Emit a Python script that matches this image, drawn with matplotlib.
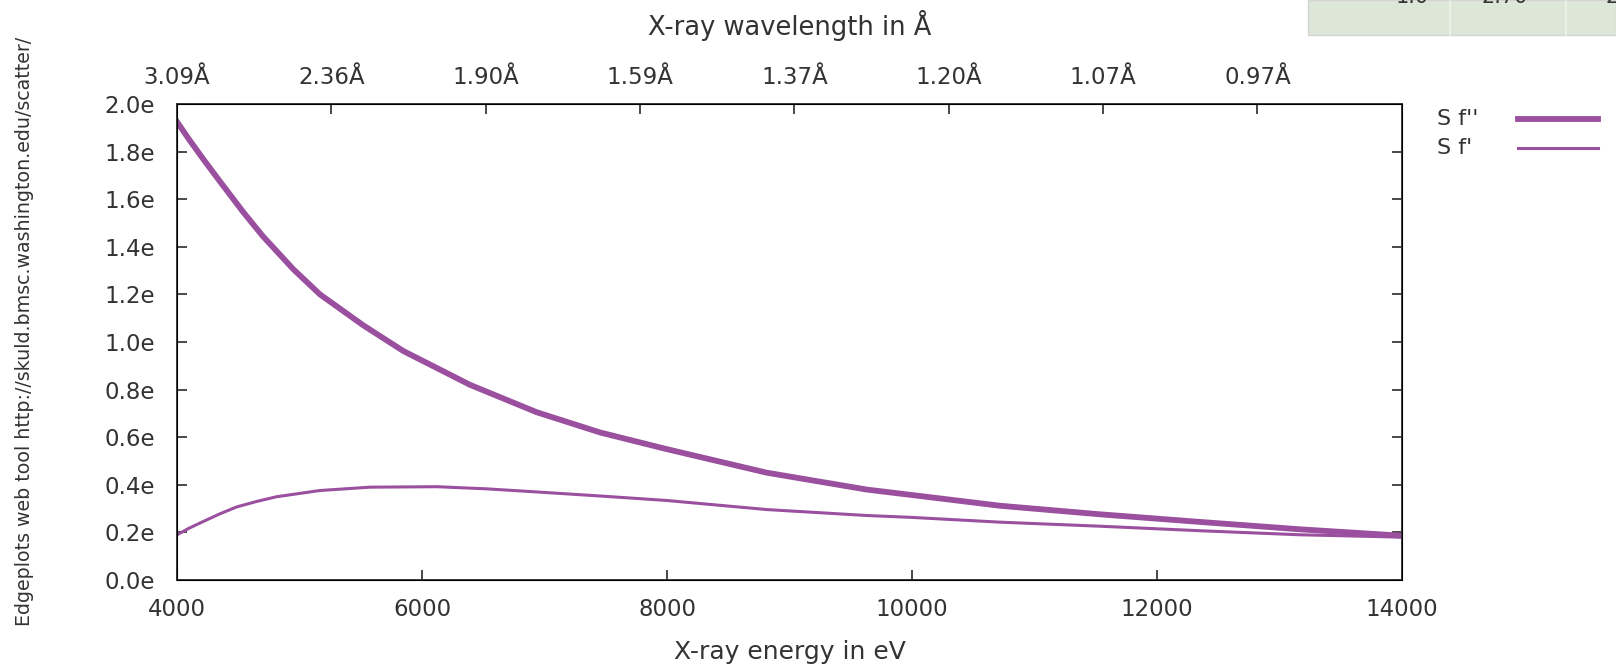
import matplotlib
matplotlib.use("Agg")
import matplotlib.pyplot as plt
from matplotlib.patches import Rectangle

# values (energy in eV, scattering factor in e)
energy_f2 = [4000, 4100, 4215, 4350, 4542, 4700, 4951, 5167, 5521, 5848, 6392, 6936,
             7453, 7997, 8813, 9630, 10000, 10718, 11535, 12351, 13167, 14000]
f_double = [1.925, 1.850, 1.768, 1.675, 1.545, 1.445, 1.305, 1.200, 1.070, 0.962, 0.820,
            0.705, 0.620, 0.550, 0.451, 0.380, 0.357, 0.312, 0.276, 0.244, 0.213, 0.186]

energy_f1 = [4000, 4100, 4215, 4350, 4487, 4650, 4814, 5167, 5575, 6120, 6528, 6936,
             7453, 8000, 8813, 9630, 10000, 10718, 11535, 12351, 13167, 14000]
f_prime = [0.190, 0.218, 0.246, 0.278, 0.307, 0.330, 0.350, 0.376, 0.390, 0.392, 0.383,
           0.370, 0.353, 0.334, 0.296, 0.271, 0.263, 0.243, 0.226, 0.207, 0.190, 0.180]

energy_ticks = [4000, 6000, 8000, 10000, 12000, 14000]
y_ticks = [0.0, 0.2, 0.4, 0.6, 0.8, 1.0, 1.2, 1.4, 1.6, 1.8, 2.0]
y_labels = ["0.0e", "0.2e", "0.4e", "0.6e", "0.8e", "1.0e",
            "1.2e", "1.4e", "1.6e", "1.8e", "2.0e"]
wl_tick_energy = [4000, 5260, 6520, 7780, 9040, 10300, 11560, 12820]
wl_labels = ["3.09Å", "2.36Å", "1.90Å", "1.59Å", "1.37Å", "1.20Å", "1.07Å", "0.97Å"]

purple = "#9a4f9f"
frame = "#3a3a3a"
text_col = "#333333"

W, H = 1616, 669
fig = plt.figure(figsize=(W / 100, H / 100), dpi=100)
fig.patch.set_facecolor("white")

ax = fig.add_axes([177 / W, (H - 580) / H, (1402 - 177) / W, (580 - 104) / H])
l1, = ax.plot(energy_f2, f_double, color=purple, lw=4.2, label="S f''")
l2, = ax.plot(energy_f1, f_prime, color=purple, lw=2.2, label="S f'")

ax.set_xlim(4000, 14000)
ax.set_ylim(0, 2.0)
ax.set_xticks(energy_ticks)
ax.set_yticks(y_ticks)
ax.set_yticklabels(y_labels)
ax.tick_params(direction="in", length=7, width=1.3, colors=frame, labelcolor=text_col,
               labelsize=16.5, right=True)
ax.tick_params(axis="x", pad=13)
ax.tick_params(axis="y", pad=16)
for s in ax.spines.values():
    s.set_color(frame)
    s.set_linewidth(1.4)
ax.set_xlabel("X-ray energy in eV", fontsize=18, color=text_col, labelpad=14)

top = ax.twiny()
top.set_xlim(ax.get_xlim())
top.set_xticks(wl_tick_energy)
top.set_xticklabels(wl_labels)
top.tick_params(direction="in", length=7, width=1.3, colors=frame, labelcolor=text_col,
                labelsize=16.5, pad=11)
top.set_xlabel("X-ray wavelength in Å", fontsize=18.5, color=text_col, labelpad=22)

# legend outside the plot, text first then line sample (gnuplot style)
for line, yrow in [(l1, 119), (l2, 148)]:
    fig.text(1437 / W, 1 - yrow / H, line.get_label(), ha="left", va="center",
             fontsize=16, color=text_col)
    fig.add_artist(plt.Line2D([1518 / W, 1598 / W], [1 - yrow / H, 1 - yrow / H],
                              transform=fig.transFigure, color=line.get_color(),
                              lw=line.get_linewidth()))

fig.text(25 / W, 1 - 331 / H, "Edgeplots web tool http://skuld.bmsc.washington.edu/scatter/",
         rotation=90, ha="center", va="center", fontsize=13.7, color=text_col)

# cut-off table fragment in the top right corner
fig.patches.append(Rectangle((1308 / W, 1 - 35 / H), (W - 1308) / W, 35 / H,
                             transform=fig.transFigure, facecolor="#dde7d8",
                             edgecolor="#d4d4d4", lw=1.0))
for xd in [1450, 1566]:
    fig.add_artist(plt.Line2D([xd / W, xd / W], [1 - 35 / H, 1], transform=fig.transFigure,
                              color="#eef2ea", lw=1.2))
for xt, s in [(1412, "1.0"), (1505, "2.70"), (1612, "2")]:
    fig.text(xt / W, 1 - 3 / H, s, ha="center", va="baseline", fontsize=15, color=text_col)

fig.savefig("out.png", dpi=100)
